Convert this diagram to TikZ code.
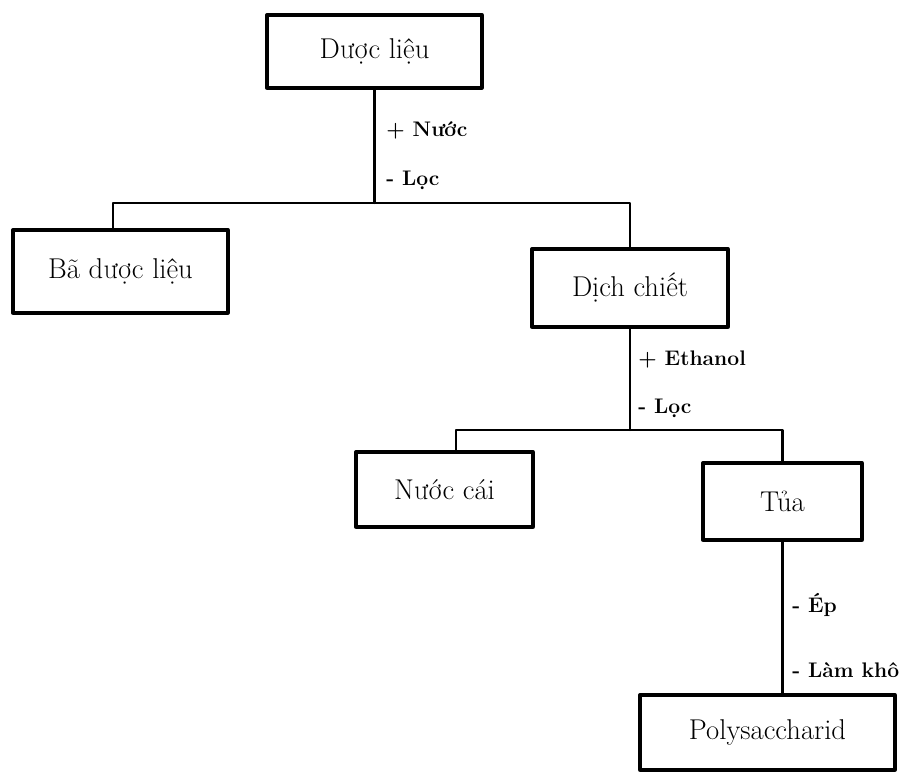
\documentclass[tikz,border=0pt]{standalone}
\usepackage{fontspec}
\setmainfont{Latin Modern Roman}
\begin{document}
\begin{tikzpicture}[x=0.02cm,y=-0.02cm,line join=round,line cap=round]
		\useasboundingbox (0,0) rectangle (906,773);
		\tikzset{hop/.style={draw,line width=1.9pt,inner sep=0pt,font=\fontsize{16.3}{19}\selectfont},
			nhan/.style={anchor=west,inner sep=0pt,font=\fontsize{12}{14}\selectfont\bfseries},
			noi/.style={line width=1.3pt}}
		\node[hop,minimum width=4.3cm,minimum height=1.46cm] (duoclieu) at (374.5,51.5) {Dược liệu};
		\node[hop,minimum width=4.3cm,minimum height=1.66cm] (bao) at (120.5,271.5) {Bã dược liệu};
		\node[hop,minimum width=3.92cm,minimum height=1.56cm] (dich) at (630,288) {Dịch chiết};
		\node[hop,minimum width=3.54cm,minimum height=1.5cm] (nuoccai) at (444.5,489.5) {Nước cái};
		\node[hop,minimum width=3.18cm,minimum height=1.54cm] (tua) at (782.5,501.5) {Tủa};
		\node[hop,minimum width=5.1cm,minimum height=1.5cm] (poly) at (767.5,732.5) {Polysaccharid};
		\coordinate (r1) at (374.5,203);
		\coordinate (r2) at (630,430);
		\draw[noi] (duoclieu.south) -- (r1);
		\draw[noi] ([xshift=-0.15cm]bao.north) |- (r1) -| (dich.north);
		\draw[noi] (dich.south) -- (r2);
		\draw[noi] ([xshift=0.23cm]nuoccai.north) |- (r2) -| (tua.north);
		\draw[noi] (tua.south) -- (tua.south |- poly.north);
		\node[nhan] (nuoc) at (386,130) {+ Nước};
		\node[nhan] (loc1) at (386,180) {- Lọc};
		\node[nhan] (ethanol) at (638,360) {+ Ethanol};
		\node[nhan] (loc2) at (638,408) {- Lọc};
		\node[nhan] (ep) at (792,605) {- Ép};
		\node[nhan] (lamkho) at (792,670) {- Làm khô};
\end{tikzpicture}
\end{document}
